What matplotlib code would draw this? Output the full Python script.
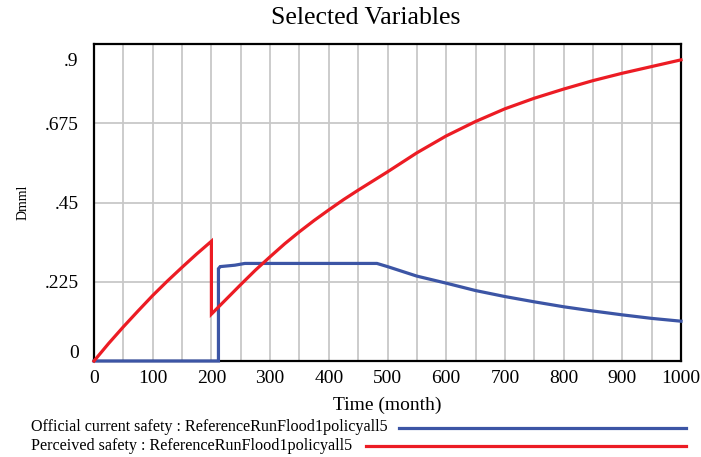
import numpy as np
import matplotlib
matplotlib.use("Agg")
from matplotlib import pyplot as plt
from matplotlib.lines import Line2D
from matplotlib.transforms import ScaledTranslation

plt.rcParams['font.family'] = ['Liberation Serif', 'DejaVu Serif']

# time (month) and values for the two runs
t_official = [0, 212, 212, 215, 240, 257, 482, 500, 550, 600, 650, 700,
              750, 800, 850, 900, 950, 1000]
official = [0, 0, 0.262, 0.268, 0.272, 0.277, 0.277, 0.268, 0.241, 0.221,
            0.200, 0.183, 0.168, 0.154, 0.142, 0.131, 0.121, 0.113]

t_perceived = [0, 25, 50, 75, 100, 125, 150, 175, 200, 200, 225, 250, 275,
               300, 325, 350, 375, 400, 425, 450, 475, 500, 550, 600, 650,
               700, 750, 800, 850, 900, 950, 1000]
perceived = [0, 0.05, 0.097, 0.142, 0.186, 0.227, 0.266, 0.304, 0.340,
             0.133, 0.175, 0.217, 0.258, 0.296, 0.333, 0.367, 0.399, 0.429,
             0.458, 0.485, 0.511, 0.537, 0.591, 0.639, 0.680, 0.716, 0.746,
             0.772, 0.796, 0.817, 0.836, 0.855]

ytick_vals = [0, 0.225, 0.45, 0.675, 0.9]
ytick_labels = ['0', '.225', '.45', '.675', '.9']
xtick_vals = list(range(0, 1001, 100))

blue = '#3c55a5'
red = '#ec1c24'

fig = plt.figure(figsize=(7.01, 4.57), dpi=100)
ax = fig.add_axes([94 / 701, 1 - 361 / 457, 587 / 701, 317 / 457])

ax.plot(t_official, official, color=blue, lw=2.3, clip_on=False, zorder=5,
        solid_joinstyle='miter')
ax.plot(t_perceived, perceived, color=red, lw=2.3, clip_on=False, zorder=6,
        solid_joinstyle='miter')

ax.set_xlim(0, 1000)
ax.set_ylim(0, 0.9)
ax.set_xticks(xtick_vals)
ax.set_xticks(range(0, 1001, 50), minor=True)
ax.set_yticks(ytick_vals, ytick_labels)
ax.grid(True, which='both', axis='x', color='#c8c8c8', lw=1.3)
ax.grid(True, which='major', axis='y', color='#c8c8c8', lw=1.3)
ax.set_axisbelow(True)
ax.tick_params(which='both', length=0)
ax.tick_params(axis='x', pad=6.5, labelsize=14)
ax.tick_params(axis='y', pad=11, labelsize=14)
for s in ax.spines.values():
    s.set_linewidth(1.6)

# keep the end labels inside the plotting range
ylabs = ax.get_yticklabels()
ylabs[0].set_transform(ylabs[0].get_transform() + ScaledTranslation(0, 9 / 100, fig.dpi_scale_trans))
ylabs[-1].set_transform(ylabs[-1].get_transform() + ScaledTranslation(0, -16 / 100, fig.dpi_scale_trans))

ax.set_xlabel('Time (month)', fontsize=14, labelpad=7)
ax.set_ylabel('Dmml', fontsize=10, labelpad=11)

fig.text(366 / 701, 1 - 18 / 457, 'Selected Variables', fontsize=18.5,
         ha='center', va='center')

# legend rows
fig.text(31 / 701, 1 - 427 / 457, 'Official current safety : ReferenceRunFlood1policyall5',
         fontsize=11.6, ha='left', va='center')
fig.add_artist(Line2D([399 / 701, 686 / 701], [1 - 428 / 457, 1 - 428 / 457],
                      color=blue, lw=2.3, transform=fig.transFigure))
fig.text(31 / 701, 1 - 446 / 457, 'Perceived safety : ReferenceRunFlood1policyall5',
         fontsize=11.6, ha='left', va='center')
fig.add_artist(Line2D([366 / 701, 686 / 701], [1 - 446 / 457, 1 - 446 / 457],
                      color=red, lw=2.3, transform=fig.transFigure))

fig.savefig('out.png', dpi=100)
